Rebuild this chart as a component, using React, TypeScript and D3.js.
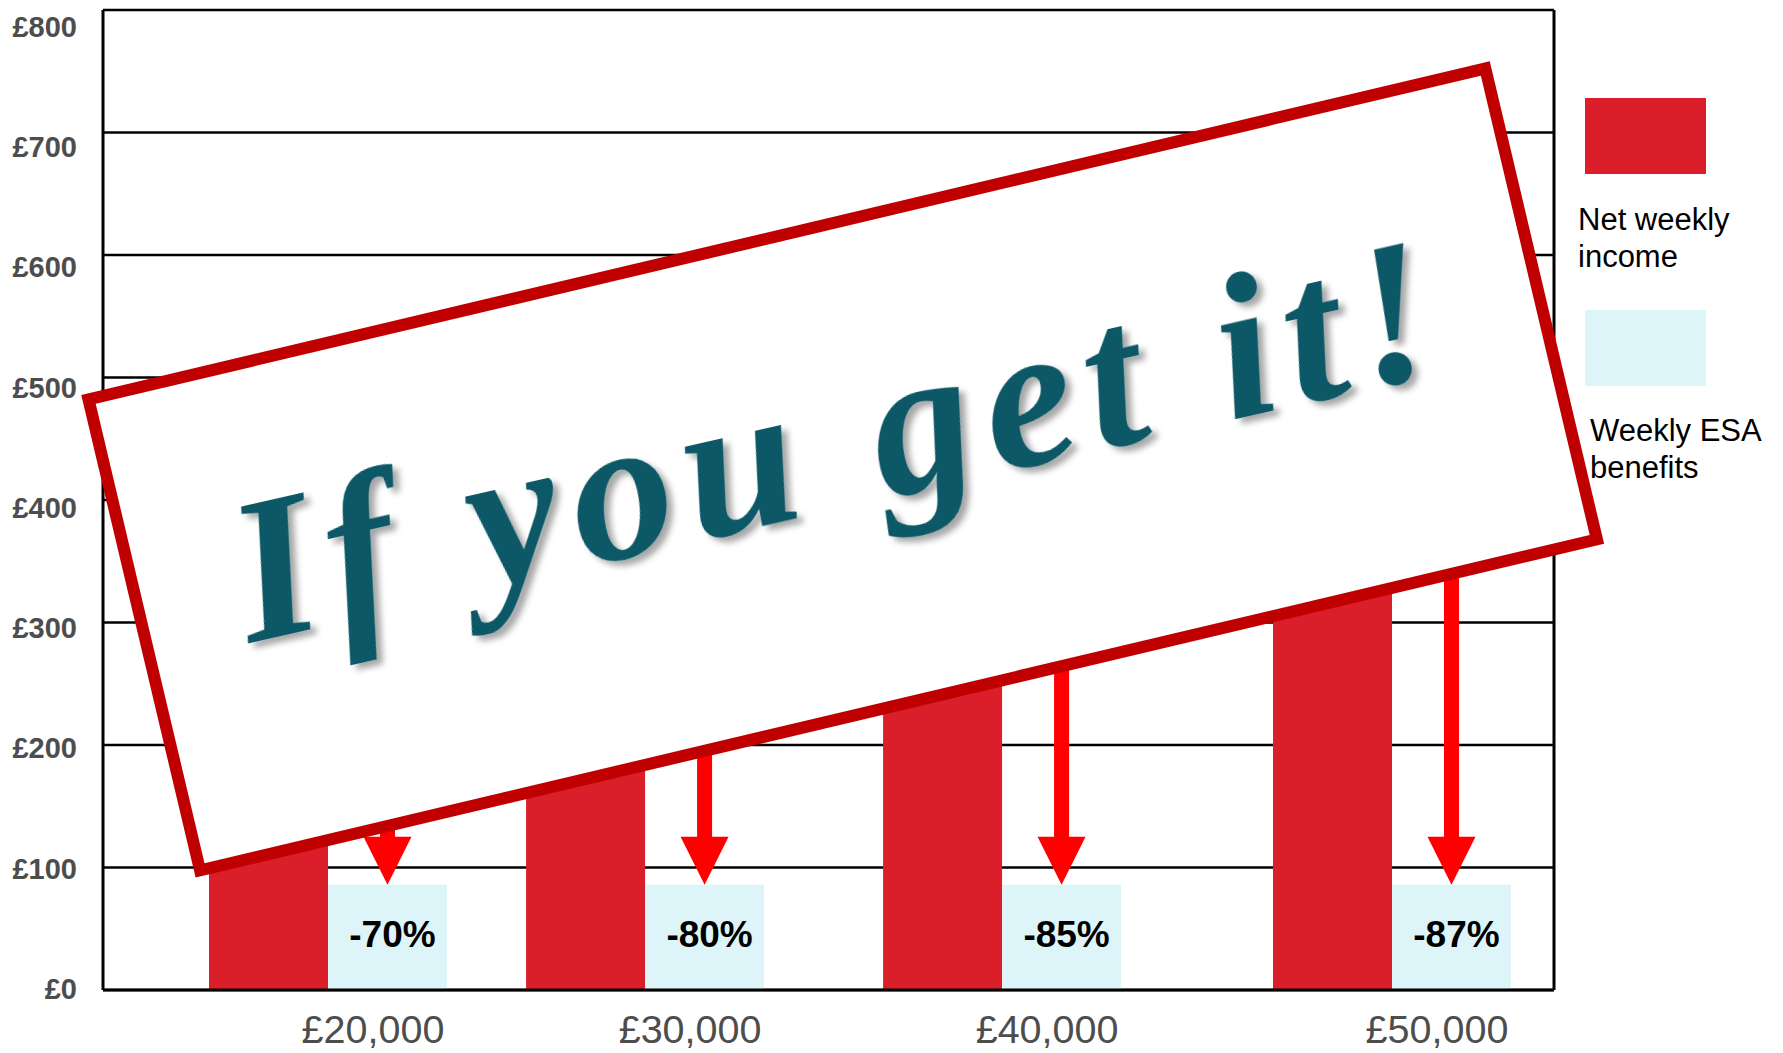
import React from 'react';
import * as d3 from 'd3';

const categories = ['£20,000', '£30,000', '£40,000', '£50,000'];
const salaries = [20000, 30000, 40000, 50000];
const netIncome = [287, 430, 573, 662];
const esaBenefits = [86, 86, 86, 86];
const pctLabels = ['-70%', '-80%', '-85%', '-87%'];
const yTicks = [0, 100, 200, 300, 400, 500, 600, 700, 800];
const yTickLabels = ['£0', '£100', '£200', '£300', '£400', '£500', '£600', '£700', '£800'];
const legendItems = [
  { lines: ['Net weekly', 'income'], key: 'income' },
  { lines: ['Weekly ESA', 'benefits'], key: 'esa' },
];
const stampText = 'If you get it!';

const W = 1783;
const H = 1053;
const plot = { left: 103, right: 1554, top: 10, bottom: 990 };
const RED = '#DA1F2B';
const LIGHT = '#DDF4F8';
const ARROW = '#FF0000';
const BOX = '#C00000';
const TEAL = '#115866';
const SANS = "'Liberation Sans', Arial, sans-serif";

export default function App() {
  const x = d3.scalePow().exponent(1.35).domain([20000, 50000]).range([328, 1392]);
  const y = d3.scaleLinear().domain([0, 800]).range([plot.bottom, plot.top]);
  const yLab = d3.scaleLinear().domain([0, 800]).range([999, 36.7]);
  const barW = 119;

  const arrowPath = (cx: number, y0: number, tip: number) => {
    const sw = 7.5, hw = 24, hh = 48;
    const ht = tip - hh;
    return `M${cx - sw},${y0}L${cx + sw},${y0}L${cx + sw},${ht}L${cx + hw},${ht}L${cx},${tip}L${cx - hw},${ht}L${cx - sw},${ht}Z`;
  };

  return (
    <svg width={W} height={H} style={{ position: 'absolute', left: 0, top: 0, background: '#fff' }}>
      <defs>
        <filter id="shadow" x="-10%" y="-30%" width="120%" height="160%">
          <feDropShadow dx="5" dy="6" stdDeviation="3" floodColor="#000" floodOpacity="0.35" />
        </filter>
      </defs>
      <rect x={0} y={0} width={W} height={H} fill="#fff" />
      {/* gridlines */}
      {yTicks.map((t) => (
        <line key={t} x1={plot.left} x2={plot.right} y1={y(t)} y2={y(t)} stroke="#000" strokeWidth={2.5} />
      ))}
      {/* frame */}
      <line x1={plot.left} x2={plot.left} y1={plot.top} y2={plot.bottom} stroke="#000" strokeWidth={3} />
      <line x1={plot.right} x2={plot.right} y1={plot.top} y2={plot.bottom} stroke="#000" strokeWidth={3} />
      {/* bars */}
      {salaries.map((s, i) => (
        <g key={s}>
          <rect x={x(s) - barW} y={y(netIncome[i])} width={barW} height={y(0) - y(netIncome[i])} fill={RED} />
          <rect x={x(s)} y={y(esaBenefits[i])} width={barW} height={y(0) - y(esaBenefits[i])} fill={LIGHT} />
        </g>
      ))}
      <line x1={plot.left} x2={plot.right} y1={y(0)} y2={y(0)} stroke="#000" strokeWidth={3} />
      {/* arrows */}
      {salaries.map((s, i) => (
        <path key={s} d={arrowPath(x(s) + barW / 2, y(netIncome[i]), y(esaBenefits[i]))} fill={ARROW} />
      ))}
      {/* percent labels */}
      {salaries.map((s, i) => (
        <text key={s} x={x(s) + barW / 2 + 5} y={946.5} textAnchor="middle" fontFamily={SANS} fontWeight="bold" fontSize={37} fill="#000">
          {pctLabels[i]}
        </text>
      ))}
      {/* stamp box */}
      <g transform="translate(842.7,469.4) rotate(-13.33)">
        <rect x={-717.75} y={-242} width={1435.5} height={484} fill="#fff" stroke={BOX} strokeWidth={12} strokeLinejoin="miter" />
      </g>
      <g transform="translate(250,643) rotate(-12.8)" filter="url(#shadow)">
        <text x={0} y={0} fontFamily="'Liberation Serif', 'Times New Roman', serif" fontStyle="italic" fontWeight="bold" fontSize={205} fill={TEAL} textLength={1225} lengthAdjust="spacing">
          {stampText}
        </text>
      </g>
      {/* y labels */}
      {yTicks.map((t, i) => (
        <text key={t} x={77} y={yLab(t)} textAnchor="end" fontFamily={SANS} fontWeight="bold" fontSize={29} fill="#4D4D4D">
          {yTickLabels[i]}
        </text>
      ))}
      {/* x labels */}
      {salaries.map((s, i) => (
        <text key={s} x={x(s) + 45} y={1043} textAnchor="middle" fontFamily={SANS} fontSize={39.5} fill="#4D4D4D">
          {categories[i]}
        </text>
      ))}
      {/* legend */}
      <rect x={1585} y={98} width={121} height={76} fill={RED} />
      <rect x={1585} y={310} width={121} height={76} fill={LIGHT} />
      {legendItems.map((item, k) => (
        <text key={item.key} x={k === 0 ? 1578 : 1590} y={k === 0 ? 230 : 441} fontFamily={SANS} fontSize={31} fill="#000">
          {item.lines.map((ln, j) => (
            <tspan key={j} x={k === 0 ? 1578 : 1590} dy={j === 0 ? 0 : 37}>{ln}</tspan>
          ))}
        </text>
      ))}
    </svg>
  );
}
